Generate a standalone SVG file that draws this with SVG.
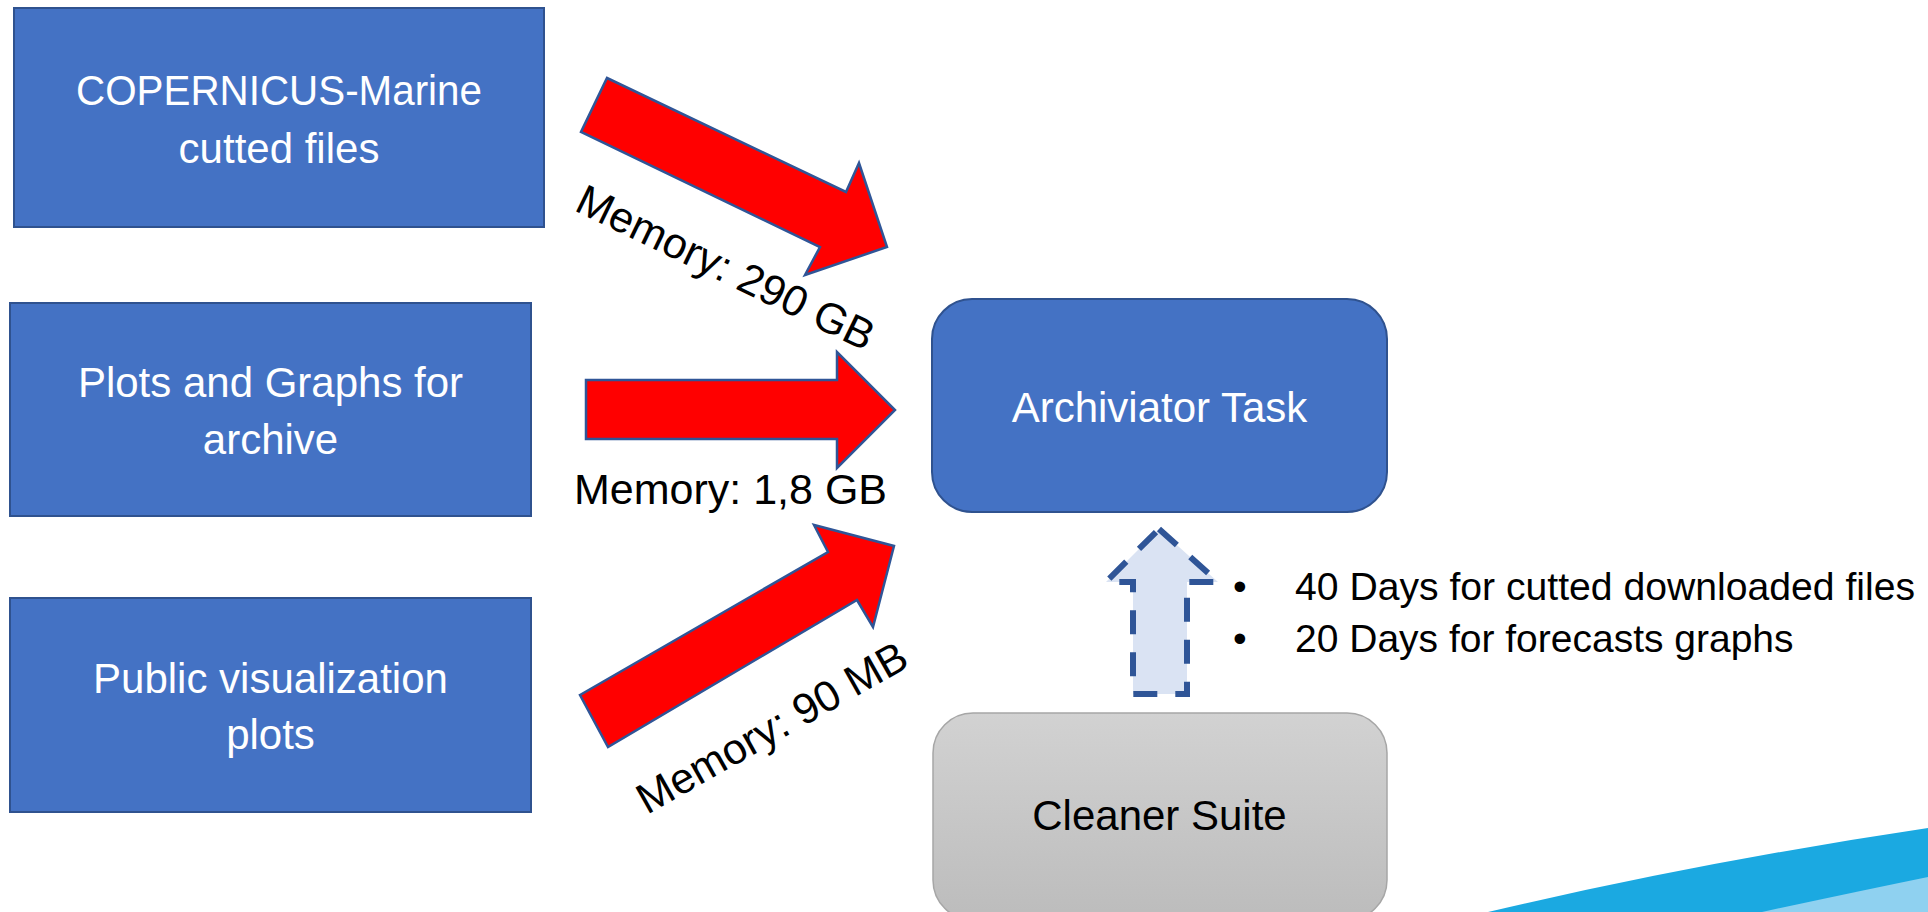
<svg xmlns="http://www.w3.org/2000/svg" width="1928" height="912" viewBox="0 0 1928 912">
<defs>
<style>
.box{fill:#4472c4;stroke:#2f528f;stroke-width:2}
.wt{fill:#ffffff;font-family:"Liberation Sans",Arial,sans-serif;font-size:42px;text-anchor:middle}
.bt{fill:#000000;font-family:"Liberation Sans",Arial,sans-serif}
.red{fill:#ff0000;stroke:#2f5597;stroke-width:2.5;stroke-linejoin:miter}
</style>
<linearGradient id="gray" x1="0" y1="0" x2="0" y2="1">
<stop offset="0" stop-color="#d2d2d2"/>
<stop offset="1" stop-color="#bcbcbc"/>
</linearGradient>
</defs>
<rect width="1928" height="912" fill="#ffffff"/>
<g id="swoosh">
<path d="M1488,912 Q1700,862 1928,828 L1928,912 Z" fill="#1ba9e1"/>
<path d="M1762,912 Q1850,893 1928,877 L1928,912 Z" fill="#8fd1f0"/>
</g>
<g id="copernicus">
<rect class="box" x="14" y="8" width="530" height="219"/>
<text class="wt" x="279" y="105" textLength="406" lengthAdjust="spacingAndGlyphs">COPERNICUS-Marine</text>
<text class="wt" x="279" y="163">cutted files</text>
</g>
<g id="plots">
<rect class="box" x="10" y="303" width="521" height="213"/>
<text class="wt" x="270.5" y="397">Plots and Graphs for</text>
<text class="wt" x="270.5" y="454">archive</text>
</g>
<g id="public">
<rect class="box" x="10" y="598" width="521" height="214"/>
<text class="wt" x="270.5" y="693">Public visualization</text>
<text class="wt" x="270.5" y="749">plots</text>
</g>
<g id="archiviator">
<rect class="box" x="932" y="299" width="455" height="213" rx="40" ry="40"/>
<text class="wt" x="1159.5" y="422">Archiviator Task</text>
</g>
<g id="cleaner">
<rect x="933" y="713" width="454" height="207" rx="40" ry="40" fill="url(#gray)" stroke="#a6a6a6" stroke-width="1.5"/>
<text class="bt" x="1159.5" y="830" font-size="42" text-anchor="middle">Cleaner Suite</text>
</g>
<g id="connectors">
<polygon class="red" points="607,78 846,192 859,163 887,247 805,275 820,247 581,132"/>
<polygon class="red" points="586,380 837,380 837,352 895,410 837,468 837,439 586,439"/>
<polygon class="red" points="580,695 828,552 814,525 894,546 873,627 857,600 608,747"/>
<polygon points="1159,529 1218,582 1187,582 1187,694 1133,694 1133,582 1106,582" fill="#dae3f3" stroke="#2f5597" stroke-width="6" stroke-dasharray="24 18" stroke-linejoin="miter"/>
</g>
<g id="labels">
<text class="bt" font-size="43" transform="translate(573,210) rotate(25.8)">Memory: 290 GB</text>
<text class="bt" font-size="43" x="574" y="504">Memory: 1,8 GB</text>
<text class="bt" font-size="43" transform="translate(647,815) rotate(-29.5)">Memory: 90 MB</text>
</g>
<g id="notes">
<text class="bt" font-size="39" x="1233" y="600">•</text>
<text class="bt" font-size="39" x="1295" y="600" textLength="620" lengthAdjust="spacingAndGlyphs">40 Days for cutted downloaded files</text>
<text class="bt" font-size="39" x="1233" y="652">•</text>
<text class="bt" font-size="39" x="1295" y="652">20 Days for forecasts graphs</text>
</g>
</svg>
